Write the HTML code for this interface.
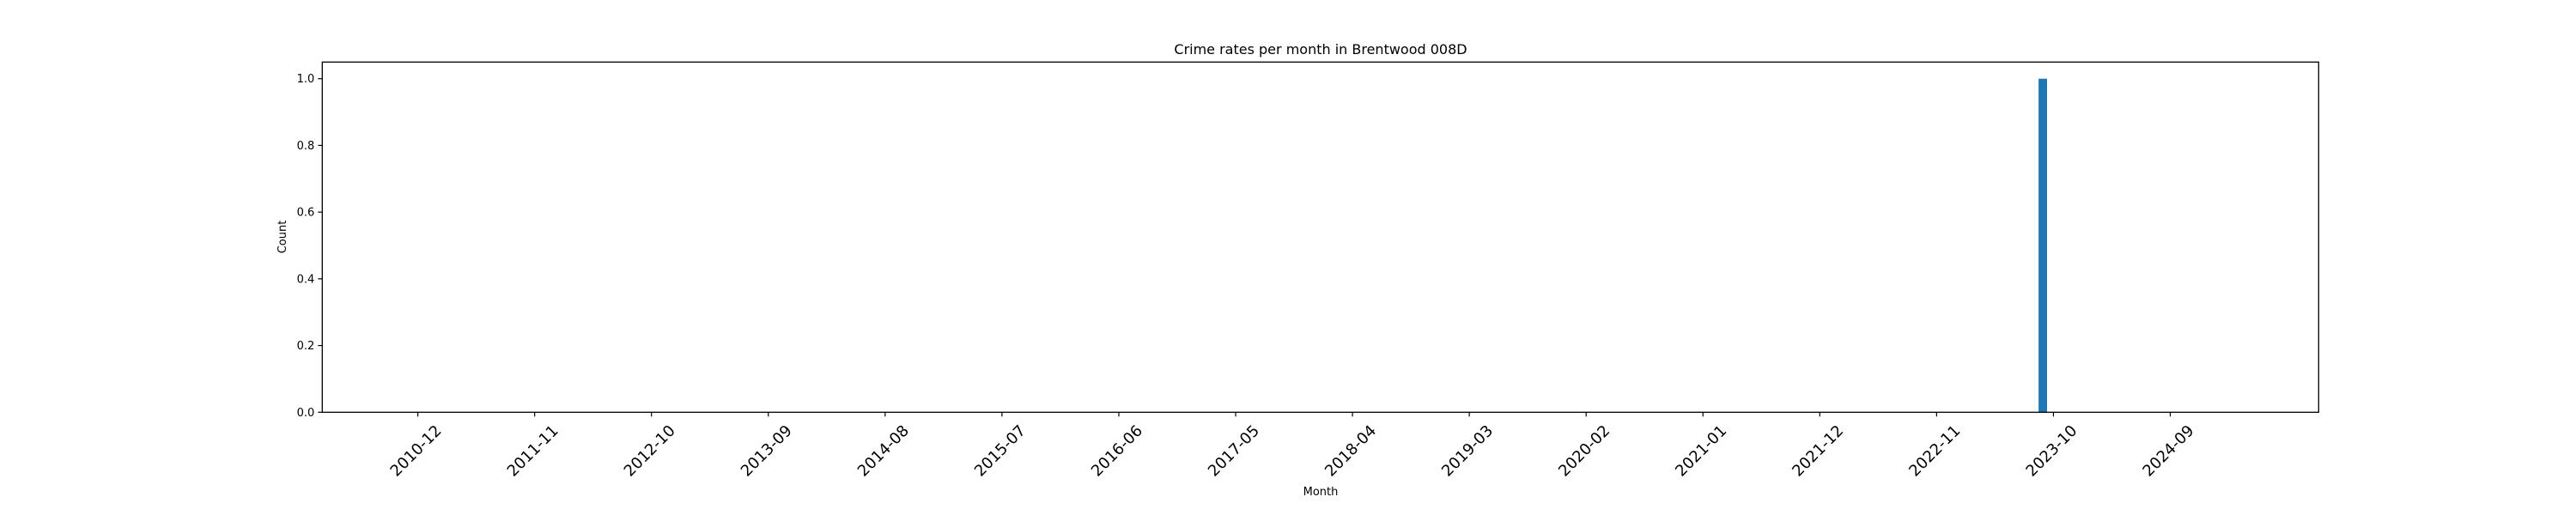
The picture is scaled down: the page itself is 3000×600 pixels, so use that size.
<!DOCTYPE html>
<html><head><meta charset="utf-8"><style>
html,body{margin:0;padding:0;background:#fff;}
svg{display:block;font-family:"DejaVu Sans","Liberation Sans",sans-serif;}
</style></head><body>
<svg id="chart" width="3000" height="600" viewBox="0 0 3000 600" xmlns="http://www.w3.org/2000/svg">
<rect width="3000" height="600" fill="#fff"/>
<text x="1538" y="63" font-size="16" text-anchor="middle">Crime rates per month in Brentwood 008D</text>
<text x="1538" y="577" font-size="13" text-anchor="middle">Month</text>
<text x="0" y="0" font-size="13" text-anchor="middle" transform="translate(333,276) rotate(-90)">Count</text>
<g id="plot"></g>
</svg>
<script>
const months = ["2023-09"];
const counts = [1];
const xTickLabels = ["2010-12","2011-11","2012-10","2013-09","2014-08","2015-07","2016-06","2017-05","2018-04","2019-03","2020-02","2021-01","2021-12","2022-11","2023-10","2024-09"];
const yTicks = [0, 0.2, 0.4, 0.6, 0.8, 1.0];

const NS = "http://www.w3.org/2000/svg";
const L = 375.3, R = 2700.3, T = 72.3, B = 480.3;
function mIdx(s){const p=s.split("-");return (+p[0]-2010)*12 + (+p[1]-1);}
function xs(s){return 486.6 + (mIdx(s)-11)*12.369;}
function ys(v){return B - v*(B-91.7);}
const g = document.getElementById("plot");
function mk(tag, attrs){const e=document.createElementNS(NS,tag);for(const k in attrs)e.setAttribute(k,attrs[k]);g.appendChild(e);return e;}

months.forEach((m,i)=>{
  const w = 12.369*0.8;
  const r = mk("rect",{x:xs(m)-w/2,y:ys(counts[i]),width:w,height:B-ys(counts[i]),fill:"#1f77b4"});
  
  
});

const frame = mk("rect",{x:L,y:T,width:R-L,height:B-T,fill:"none",stroke:"#000","stroke-width":1.3});



yTicks.forEach(v=>{
  const y = ys(v);
  const t = mk("line",{x1:L-5,x2:L,y1:y,y2:y,stroke:"#000","stroke-width":1.2});
  
  
  const tx = mk("text",{x:L-9,y:y+4.5,"font-size":13,"text-anchor":"end"});
  tx.textContent = v.toFixed(1);
  
  
});

xTickLabels.forEach(s=>{
  const x = xs(s);
  const t = mk("line",{x1:x,x2:x,y1:B,y2:B+5,stroke:"#000","stroke-width":1.2});
  
  
  const tx = mk("text",{x:0,y:0,"font-size":18,"text-anchor":"middle","dominant-baseline":"central",transform:`translate(${x-2},525.5) rotate(-45)`});
  tx.textContent = s;
  
  
});
</script>
</body></html>
